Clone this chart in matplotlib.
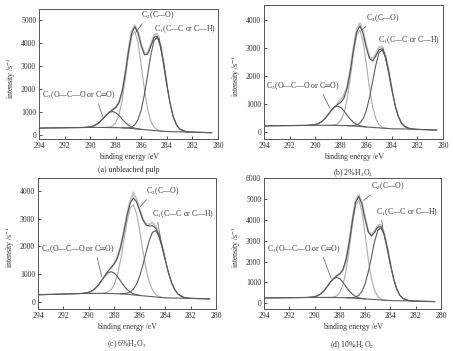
import numpy as np
import matplotlib

matplotlib.use('Agg')
import matplotlib.pyplot as plt

plt.rcParams['font.family'] = ['Liberation Serif', 'DejaVu Sans']
plt.rcParams['mathtext.fontset'] = 'stix'

# energy grids (eV)
be_env = [294, 293, 292, 291, 290.5, 290.25, 290, 289.75, 289.5, 289.25, 289, 288.75, 288.5,
          288.25, 288, 287.75, 287.5, 287.25, 287, 286.75, 286.5, 286.25, 286, 285.75, 285.5,
          285.25, 285, 284.75, 284.5, 284.25, 284, 283.75, 283.5, 283.25, 283, 282.5, 282, 281, 280.5]
be_c3 = [290.5, 290.25, 290, 289.75, 289.5, 289.25, 289, 288.75, 288.5, 288.25, 288, 287.75,
         287.5, 287.25, 287, 286.75, 286.5, 286.25, 286]
be_c2 = [289, 288.75, 288.5, 288.25, 288, 287.75, 287.5, 287.25, 287, 286.75, 286.5, 286.25,
         286, 285.75, 285.5, 285.25, 285, 284.75, 284.5, 284.25]
be_c1 = [287.5, 287.25, 287, 286.75, 286.5, 286.25, 286, 285.75, 285.5, 285.25, 285, 284.75,
         284.5, 284.25, 284, 283.75, 283.5, 283.25, 283, 282.75, 282.5, 282.25]
be_raw = [288.25, 288, 287.75, 287.5, 287.25, 287, 286.75, 286.5, 286.25, 286, 285.75, 285.5,
          285.25, 285, 284.75, 284.5, 284.25, 284]

# (a) unbleached pulp
bg_a = [300, 308, 315, 322, 326, 328, 330, 330, 329, 329, 328, 326, 324, 322, 319, 316, 312, 304,
        296, 283, 269, 256, 242, 232, 221, 208, 196, 183, 170, 160, 151, 146, 142, 141, 140, 132,
        124, 108, 100]
env_a = [300, 308, 315, 322, 329, 337, 355, 391, 458, 566, 710, 865, 998, 1093, 1190, 1404, 1881,
         2672, 3639, 4427, 4707, 4424, 3874, 3487, 3514, 3874, 4245, 4295, 3882, 3102, 2191, 1382,
         796, 443, 262, 145, 125, 108, 100]
c3_a = [329, 337, 355, 391, 458, 566, 709, 860, 978, 1022, 973, 850, 693, 541, 425, 344, 294, 265, 245]
c2_a = [329, 331, 344, 393, 536, 870, 1498, 2429, 3488, 4299, 4504, 3996, 3013, 1951, 1114, 597,
        338, 226, 181, 162]
c1_a = [314, 310, 318, 350, 447, 675, 1100, 1767, 2621, 3485, 4103, 4252, 3871, 3100, 2191, 1382,
        796, 443, 262, 180, 145, 132]
raw_a = [1100, 1195, 1410, 1890, 2700, 3690, 4530, 4760, 4480, 3910, 3540, 3570, 3930, 4330, 4390,
         3940, 3120, 2195]

# (b) 2%H2O2
bg_b = [230, 235, 240, 245, 248, 249, 250, 250, 250, 249, 249, 247, 246, 245, 243, 240, 238, 232,
        227, 218, 209, 199, 190, 183, 175, 167, 159, 150, 141, 134, 127, 124, 122, 121, 120, 112,
        104, 88, 80]
env_b = [230, 235, 240, 245, 251, 258, 275, 310, 377, 483, 625, 777, 907, 993, 1064, 1216, 1577,
         2195, 2960, 3584, 3794, 3531, 3031, 2633, 2547, 2732, 2955, 2977, 2690, 2154, 1527, 972,
         571, 328, 204, 121, 105, 88, 80]
c3_b = [251, 258, 275, 310, 377, 483, 624, 773, 891, 935, 888, 766, 613, 466, 354, 278, 234, 208, 193]
c2_b = [250, 251, 262, 303, 419, 690, 1201, 1957, 2818, 3478, 3647, 3235, 2439, 1578, 900, 483,
        274, 185, 150, 136]
c1_b = [239, 236, 242, 264, 331, 486, 779, 1237, 1822, 2416, 2840, 2942, 2681, 2152, 1527, 972,
        571, 328, 204, 146, 121, 111]
raw_b = [1040, 1180, 1320, 1610, 2230, 3010, 3680, 3900, 3600, 3080, 2700, 2630, 2800, 3040, 3060,
         2740, 2180, 1530]

# (c) 6%H2O2
bg_c = [250, 263, 275, 288, 294, 297, 300, 300, 300, 299, 298, 297, 295, 293, 290, 287, 284, 277,
        270, 258, 246, 234, 222, 212, 202, 191, 181, 169, 157, 148, 140, 136, 132, 131, 130, 124,
        118, 106, 100]
env_c = [250, 263, 275, 288, 300, 314, 342, 391, 476, 603, 763, 935, 1092, 1225, 1368, 1594, 1976,
         2512, 3102, 3564, 3741, 3605, 3277, 2953, 2768, 2732, 2742, 2661, 2414, 2012, 1531, 1070,
         697, 438, 280, 150, 121, 106, 100]
c3_c = [300, 314, 342, 391, 476, 602, 758, 918, 1039, 1083, 1034, 908, 744, 580, 446, 349, 288, 251, 228]
c2_c = [303, 314, 348, 435, 624, 972, 1511, 2195, 2888, 3380, 3497, 3191, 2571, 1842, 1190, 714,
        423, 266, 192, 159]
c1_c = [289, 291, 308, 351, 448, 631, 922, 1321, 1780, 2209, 2500, 2564, 2379, 2001, 1528, 1070,
        697, 438, 280, 193, 150, 130]
raw_c = [1230, 1390, 1610, 1990, 2540, 3130, 3640, 3950, 3700, 3330, 2990, 2800, 2790, 2850, 2720,
         2440, 2030, 1540]

# (d) 10%H2O2
bg_d = [255, 261, 268, 274, 277, 278, 280, 280, 280, 279, 278, 277, 275, 273, 271, 268, 265, 258,
        252, 240, 229, 218, 206, 197, 188, 178, 168, 156, 145, 137, 129, 125, 122, 121, 120, 112,
        104, 88, 80]
env_d = [255, 261, 268, 274, 281, 291, 315, 364, 457, 604, 801, 1014, 1194, 1312, 1409, 1615, 2105,
         2948, 3992, 4841, 5119, 4741, 4016, 3413, 3221, 3397, 3649, 3665, 3305, 2640, 1864, 1176,
         679, 378, 224, 123, 105, 88, 80]
c3_d = [281, 291, 315, 364, 457, 604, 800, 1009, 1172, 1233, 1168, 1000, 787, 583, 429, 324, 264, 231, 210]
c2_d = [279, 282, 297, 352, 512, 883, 1582, 2618, 3797, 4700, 4932, 4372, 3283, 2106, 1180, 610,
        326, 204, 157, 140]
c1_d = [266, 263, 270, 297, 381, 574, 935, 1503, 2229, 2965, 3491, 3617, 3293, 2637, 1864, 1176,
        679, 378, 224, 153, 123, 111]
raw_d = [1315, 1415, 1620, 2120, 2980, 4040, 4930, 5200, 4810, 4070, 3460, 3280, 3460, 3740, 3760,
         3350, 2660, 1870]

lab_c2 = 'C$_2$(C—O)'
lab_c1 = 'C$_1$(C—C or C—H)'
lab_c3 = 'C$_3$(O—C—O or C═O)'

DARK = '#505050'
LIGHT = '#ababab'
TXT = '#333333'
FS = 5.6


def panel(ax, bg, env, c3, c2, c1, raw, ylim, yticks, caption, cap_y, ann):
    ax.plot(be_raw, raw, color='#c8c8c8', lw=1.5, zorder=1)
    ax.plot(be_c2, c2, color=LIGHT, lw=0.8, zorder=2)
    ax.plot(be_env, env, color=DARK, lw=0.8, zorder=3)
    ax.plot(be_c1, c1, color='#5c5c5c', lw=0.8, zorder=3)
    ax.plot(be_c3, c3, color='#5c5c5c', lw=0.8, zorder=3)
    ax.plot(be_env, bg, color='#5c5c5c', lw=0.8, zorder=3)

    ax.set_xlim(294, 280)
    ax.set_ylim(*ylim)
    ax.set_xticks(np.arange(294, 279, -2))
    ax.set_yticks(yticks)
    ax.tick_params(direction='in', length=2.5, width=0.6, labelsize=FS, colors=TXT, pad=2)
    for s in ax.spines.values():
        s.set_color('#555555')
        s.set_linewidth(0.7)

    ax.set_ylabel('intensity /s$^{-1}$', fontsize=FS, color=TXT)
    ax.yaxis.set_label_coords(-0.12, 0.47)
    ax.text(0.5, -0.135, 'binding energy /eV', transform=ax.transAxes, ha='center', va='center',
            fontsize=FS, color=TXT)
    ax.text(0.5, cap_y, caption, transform=ax.transAxes, ha='center', va='center',
            fontsize=FS, color=TXT)

    for txt, tip, pos, rel in zip([lab_c2, lab_c1, lab_c3], ann[0], ann[1], [(0.1, 0), (0.08, 0), (0.75, 0)]):
        ax.annotate(txt, xy=tip, xytext=pos, ha='center', va='center', fontsize=FS, color=TXT,
                    arrowprops=dict(arrowstyle='-', color='#555555', lw=0.5, shrinkA=0, shrinkB=0,
                                    relpos=rel))


fig = plt.figure(figsize=(4.53, 3.51), dpi=100)
ax_a = fig.add_axes([0.0861, 0.6040, 0.3951, 0.3704])
ax_b = fig.add_axes([0.5828, 0.6040, 0.3952, 0.3818])
ax_c = fig.add_axes([0.0839, 0.1197, 0.3929, 0.3732])
ax_d = fig.add_axes([0.5828, 0.1197, 0.3907, 0.3732])

panel(ax_a, bg_a, env_a, c3_a, c2_a, c1_a, raw_a, (-174, 5478), range(0, 5001, 1000),
      '(a) unbleached pulp', -0.238,
      [[(286.4, 4478), (284.5, 3783), (289.0, 783)],
       [(284.7, 5217), (282.6, 4609), (290.87, 1739)]])
panel(ax_b, bg_b, env_b, c3_b, c2_b, c1_b, raw_b, (-239, 4546), range(0, 4001, 1000),
      '(b) 2%H$_2$O$_2$', -0.254,
      [[(286.36, 3654), (284.41, 2464), (288.84, 857)],
       [(284.7, 4082), (282.69, 3296), (290.93, 1654)]])
panel(ax_c, bg_c, env_c, c3_c, c2_c, c1_c, raw_c, (-264, 4466), range(0, 4001, 1000),
      '(c) 6%H$_2$O$_2$', -0.27,
      [[(285.97, 3430), (284.27, 2072), (288.99, 903)],
       [(284.2, 3996), (282.57, 3166), (290.85, 1903)]])
panel(ax_d, bg_d, env_d, c3_d, c2_d, c1_d, raw_d, (-274, 6000), range(0, 6001, 1000),
      '(d) 10%H$_2$O$_2$', -0.275,
      [[(286.14, 4918), (284.56, 3365), (288.7, 1202)],
       [(284.23, 5606), (282.65, 4375), (290.84, 2610)]])

plt.savefig('out.png', dpi=100)
